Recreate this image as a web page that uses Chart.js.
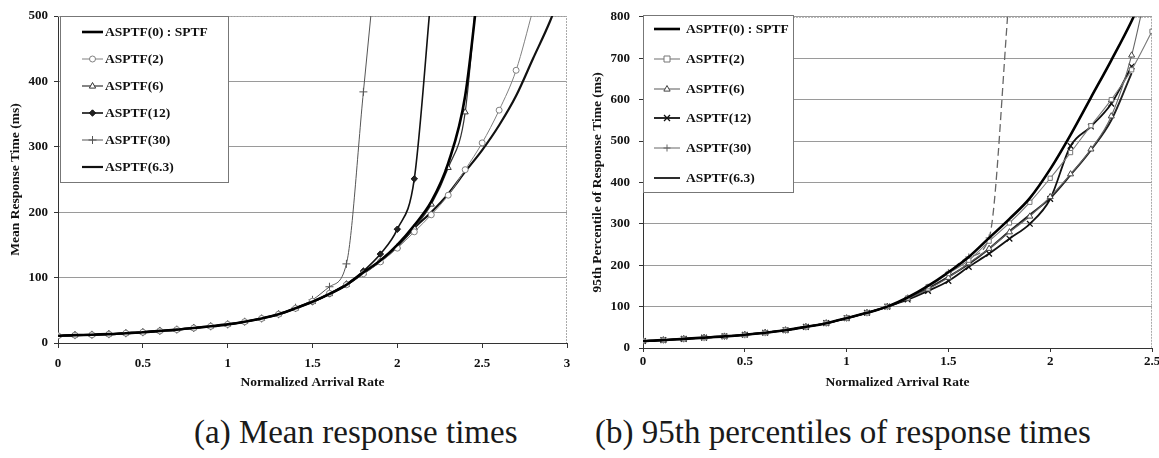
<!DOCTYPE html>
<html><head><meta charset="utf-8">
<script src="https://cdn.jsdelivr.net/npm/chart.js@4.4.1/dist/chart.umd.min.js"></script>
<style>
html,body{margin:0;padding:0;background:#fff;width:1159px;height:458px;overflow:hidden;position:relative;}
#wa{position:absolute;left:0;top:0;width:580px;height:400px;}
#wb{position:absolute;left:580px;top:0;width:600px;height:400px;}
.cap{position:absolute;top:416px;font-family:"Liberation Serif","Times New Roman",serif;font-size:33px;color:#1a1a1a;white-space:nowrap;line-height:33px;}
</style></head><body>
<div id="wa"><canvas id="ca" width="580" height="400"></canvas></div>
<div id="wb"><canvas id="cb" width="600" height="400"></canvas></div>
<div class="cap" style="left:194px">(a) Mean response times</div>
<div class="cap" style="left:595px">(b) 95th percentiles of response times</div>
<script>
// ---------- DATA ----------
const seriesNames = ["ASPTF(0) : SPTF", "ASPTF(2)", "ASPTF(6)", "ASPTF(12)", "ASPTF(30)", "ASPTF(6.3)"];

// (a) Mean response time (ms) vs normalized arrival rate
const meanRates = [0,0.1,0.2,0.3,0.4,0.5,0.6,0.7,0.8,0.9,1.0,1.1,1.2,1.3,1.4,1.5,1.6,1.7,1.8,1.9,2.0,2.1,2.2,2.3,2.4,2.5,2.6,2.7,2.8,2.9,3.0];
const meanSPTF  = [11,12,12.5,13.5,15,16.5,18.5,20.5,23,25.5,28.5,32.5,37.5,44,53,63,75,89,108,126,150,180,216,275,378,600,null,null,null,null,null];
const meanA2    = [11,12,12.5,13.5,15,16.5,18.5,20.5,23,25.5,28.5,32.5,37.5,44,53,64,76,89,106,124,145,170,196,226,265,306,356,417,510,null,null];
const meanA6    = [11,12,12.5,13.5,15,16.5,18.5,20.5,23,25.5,28.5,32.5,37.5,44,53,63,75,89,107,125,147,176,212,268,353,640,null,null,null,null,null];
const meanA12   = [11,12,12.5,13.5,15,16.5,18.5,20.5,23,25.5,28.5,32.5,37.5,44,53,63,75,90,110,136,174,251,535,null,null,null,null,null,null,null,null];
const meanA30   = [11,12,12.5,13.5,15,16.5,18.5,20.5,23,25.5,28.5,32.5,37.5,44,54,66,86,121,384,650,null,null,null,null,null,null,null,null,null,null,null];
const meanA63   = [11,12,12.5,13.5,15,16.5,18.5,20.5,23,25.5,28.5,32.5,37.5,44,53,63,75,89,107,125,148,176,200,228,262,295,333,378,435,492,560];
const meanYTicks = [0,100,200,300,400,500];
const meanXTicks = [0,0.5,1,1.5,2,2.5,3];

// (b) 95th percentile of response time (ms)
const pctRates = [0,0.1,0.2,0.3,0.4,0.5,0.6,0.7,0.8,0.9,1.0,1.1,1.2,1.3,1.4,1.5,1.6,1.7,1.8,1.9,2.0,2.1,2.2,2.3,2.4,2.5];
const pctSPTF = [17,19,22,25,28,32,37,43,51,60,72,85,100,122,150,183,220,266,312,362,432,515,605,695,790,900];
const pctA2   = [17,19,22,25,28,32,37,43,51,60,72,85,100,121,148,180,212,258,302,352,410,472,537,600,672,765];
const pctA6   = [17,19,22,25,28,32,37,43,51,60,72,85,100,119,142,170,205,240,280,318,365,420,480,560,707,930];
const pctA12  = [17,19,22,25,28,32,37,43,51,60,72,85,100,117,138,162,196,228,264,300,360,488,535,590,680,null];
const pctA30  = [17,19,22,25,28,32,37,43,51,60,72,85,100,121,147,182,220,266,860,null,null,null,null,null,null,null];
const pctA63  = [17,19,22,25,28,32,37,43,51,60,72,85,100,120,144,172,203,240,282,322,362,418,478,550,664,null];
const pctYTicks = [0,100,200,300,400,500,600,700,800];
const pctXTicks = [0,0.5,1,1.5,2,2.5];

// ---------- HELPERS ----------
function pts(xs, ys){ const out=[]; xs.forEach((x,i)=>{ if(ys[i]!==null && ys[i]!==undefined) out.push({x:x,y:ys[i]}); }); return out; }
const SERIF = '"Liberation Serif","Times New Roman",serif';

function drawMarker(ctx, style, x, y, r, fill, stroke, lw){
  if(!style || r<=0) return;
  ctx.save();
  ctx.lineWidth = lw || 1; ctx.strokeStyle = stroke; ctx.fillStyle = fill; ctx.setLineDash([]);
  ctx.beginPath();
  if(style==='circle'){ ctx.arc(x,y,r,0,Math.PI*2); ctx.fill(); ctx.stroke(); }
  else if(style==='rect'){ ctx.rect(x-r,y-r,2*r,2*r); ctx.fill(); ctx.stroke(); }
  else if(style==='rectRot'){ ctx.moveTo(x,y-r); ctx.lineTo(x+r,y); ctx.lineTo(x,y+r); ctx.lineTo(x-r,y); ctx.closePath(); ctx.fill(); ctx.stroke(); }
  else if(style==='triangle'){ ctx.moveTo(x,y-r); ctx.lineTo(x+r*0.9,y+r*0.6); ctx.lineTo(x-r*0.9,y+r*0.6); ctx.closePath(); ctx.fill(); ctx.stroke(); }
  else if(style==='cross'){ ctx.moveTo(x,y-r); ctx.lineTo(x,y+r); ctx.moveTo(x-r,y); ctx.lineTo(x+r,y); ctx.stroke(); }
  else if(style==='crossRot'){ const d=r*0.75; ctx.moveTo(x-d,y-d); ctx.lineTo(x+d,y+d); ctx.moveTo(x+d,y-d); ctx.lineTo(x-d,y+d); ctx.stroke(); }
  ctx.restore();
}

const boxLegend = {
  id:'boxLegend',
  afterDatasetsDraw(chart, args, o){
    const ctx = chart.ctx;
    ctx.save();
    ctx.fillStyle='#fff'; ctx.fillRect(o.x,o.y,o.w,o.h);
    ctx.strokeStyle='#777'; ctx.lineWidth=1; ctx.setLineDash([]);
    ctx.strokeRect(o.x+0.5,o.y+0.5,o.w,o.h);
    chart.data.datasets.forEach((ds,i)=>{
      const y = o.ys[i];
      ctx.save();
      ctx.strokeStyle = ds.borderColor; ctx.lineWidth = ds.legendWidth || ds.borderWidth; ctx.setLineDash([]);
      ctx.beginPath(); ctx.moveTo(o.lx1,y); ctx.lineTo(o.lx2,y); ctx.stroke();
      ctx.restore();
      drawMarker(ctx, ds.pointStyle, (o.lx1+o.lx2)/2, y, ds.pointRadius, ds.pointBackgroundColor, ds.pointBorderColor, ds.pointBorderWidth);
      ctx.fillStyle='#111'; ctx.font='bold 13.5px '+SERIF; ctx.textBaseline='middle'; ctx.textAlign='left';
      ctx.fillText(ds.label, o.tx, y+1);
    });
    ctx.restore();
  }
};
const plotBorder = {
  id:'plotBorder',
  beforeDatasetsDraw(chart){
    const a = chart.chartArea, ctx = chart.ctx;
    ctx.save(); ctx.strokeStyle='#aaa'; ctx.lineWidth=1; ctx.setLineDash([2,1]);
    ctx.beginPath(); ctx.moveTo(a.left, a.top+0.5); ctx.lineTo(a.right-0.5, a.top+0.5); ctx.lineTo(a.right-0.5, a.bottom); ctx.stroke();
    ctx.restore();
  }
};

function ds(label, data, opt){
  return Object.assign({label:label, data:data, cubicInterpolationMode:'monotone', borderColor:'#000', borderWidth:1,
    pointRadius:0, pointStyle:false, pointBackgroundColor:'#fff', pointBorderColor:'#000', pointBorderWidth:1, fill:false}, opt);
}

function makeChart(id, cfg){
  const tickFont = {family:SERIF, size:13, weight:'bold'};
  const titleFont = {family:SERIF, size:13.5, weight:'bold'};
  return new Chart(document.getElementById(id), {
    type:'line',
    data:{datasets:cfg.datasets},
    plugins:[plotBorder, boxLegend],
    options:{
      responsive:false, devicePixelRatio:1, animation:false,
      layout:{padding:cfg.padding},
      plugins:{legend:{display:false}, tooltip:{enabled:false}, boxLegend:cfg.legend},
      scales:{
        x:{type:'linear', min:cfg.xTicks[0], max:cfg.xTicks[cfg.xTicks.length-1],
           afterBuildTicks:(s)=>{ s.ticks = cfg.xTicks.map(v=>({value:v})); },
           afterFit:(s)=>{ s.height = cfg.xH; },
           grid:{drawOnChartArea:false, drawTicks:true, tickLength:cfg.xTL, color:'#333'},
           border:{display:true, color:'#333', width:1},
           ticks:{font:tickFont, color:'#111', padding:cfg.xPad, maxRotation:0, autoSkip:false, callback:(v)=>String(v)},
           title:{display:true, text:'Normalized Arrival Rate', font:titleFont, color:'#111', padding:{top:0,bottom:8.9}}},
        y:{type:'linear', min:cfg.yTicks[0], max:cfg.yTicks[cfg.yTicks.length-1],
           afterBuildTicks:(s)=>{ s.ticks = cfg.yTicks.map(v=>({value:v})); },
           afterFit:(s)=>{ s.width = cfg.yW; },
           grid:{color:'#9a9a9a', lineWidth:1, drawTicks:true, tickLength:4, tickColor:'#333'},
           border:{display:true, color:'#333', width:1},
           ticks:{font:tickFont, color:'#111', padding:cfg.yPad, autoSkip:false, callback:(v)=>String(v)},
           title:{display:true, text:cfg.yTitle, font:titleFont, color:'#111', padding:{top:cfg.yTitlePad,bottom:0}}}
      }
    }
  });
}

// ---------- CHART (a) ----------
makeChart('ca', {
  padding:{left:0, top:16, right:13, bottom:0},
  xH:57, yW:58, xTL:5, xPad:8, yPad:6, yTitlePad:7,
  xTicks:meanXTicks, yTicks:meanYTicks, yTitle:'Mean Response Time (ms)',
  legend:{x:60, y:16, w:168, h:166, ys:[32,59,86,113,140,167], lx1:82, lx2:103, tx:105},
  datasets:[
    ds(seriesNames[0], pts(meanRates, meanSPTF), {borderColor:'#000', borderWidth:2.6}),
    ds(seriesNames[1], pts(meanRates, meanA2),   {borderColor:'#808080', borderWidth:1, pointStyle:'circle', pointRadius:3, pointBorderColor:'#808080'}),
    ds(seriesNames[2], pts(meanRates, meanA6),   {borderColor:'#333', borderWidth:1.2, pointStyle:'triangle', pointRadius:3.5, pointBorderColor:'#333'}),
    ds(seriesNames[3], pts(meanRates, meanA12),  {borderColor:'#111', borderWidth:1.6, pointStyle:'rectRot', pointRadius:3.2, pointBackgroundColor:'#222', pointBorderColor:'#111'}),
    ds(seriesNames[4], pts(meanRates, meanA30),  {borderColor:'#555', borderWidth:1, pointStyle:'cross', pointRadius:4, pointBorderColor:'#555'}),
    ds(seriesNames[5], pts(meanRates, meanA63),  {borderColor:'#111', borderWidth:2.2})
  ]
});

// ---------- CHART (b) ----------
makeChart('cb', {
  padding:{left:0, top:15, right:28, bottom:0},
  xH:52, yW:63, xTL:4, xPad:2, yPad:9, yTitlePad:9,
  xTicks:pctXTicks, yTicks:pctYTicks, yTitle:'95th Percentile of Response Time (ms)',
  legend:{x:63, y:15, w:150, h:177, ys:[29,59,89,118,148,178], lx1:74, lx2:100, tx:106},
  datasets:[
    ds(seriesNames[0], pts(pctRates, pctSPTF), {borderColor:'#000', borderWidth:2.6}),
    ds(seriesNames[1], pts(pctRates, pctA2),   {borderColor:'#7a7a7a', borderWidth:1.1, pointStyle:'rect', pointRadius:3, pointBorderColor:'#777'}),
    ds(seriesNames[2], pts(pctRates, pctA6),   {borderColor:'#666', borderWidth:1.1, pointStyle:'triangle', pointRadius:3.5, pointBorderColor:'#444'}),
    ds(seriesNames[3], pts(pctRates, pctA12),  {borderColor:'#111', borderWidth:1.8, pointStyle:'crossRot', pointRadius:4, pointBorderColor:'#111', pointBorderWidth:1.3}),
    ds(seriesNames[4], pts(pctRates, pctA30),  {borderColor:'#666', borderWidth:1.3, borderDash:[8,4], legendWidth:1, pointStyle:'cross', pointRadius:3.5, pointBorderColor:'#666'}),
    ds(seriesNames[5], pts(pctRates, pctA63),  {borderColor:'#222', borderWidth:1.9})
  ]
});
</script>
</body></html>
